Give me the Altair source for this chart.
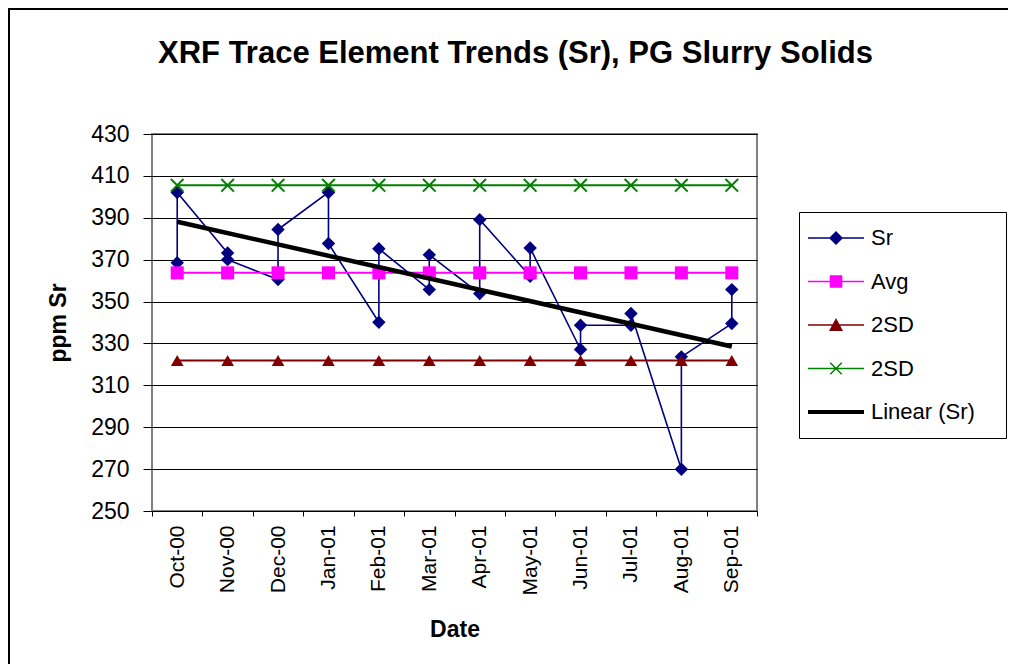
import altair as alt
import pandas as pd

# ---------------- data ----------------
months = ["Oct-00", "Nov-00", "Dec-00", "Jan-01", "Feb-01", "Mar-01",
          "Apr-01", "May-01", "Jun-01", "Jul-01", "Aug-01", "Sep-01"]

# Sr measurements (two per month, in plotting order)
sr_month_index = [0, 0, 1, 1, 2, 2, 3, 3, 4, 4, 5, 5,
                  6, 6, 7, 7, 8, 8, 9, 9, 10, 10, 11, 11]
sr_values = [368.5, 402.1, 373.2, 370.0, 360.5, 384.4, 402.1, 377.7,
             340.1, 375.2, 355.7, 372.3, 353.8, 389.1, 362.1, 375.6,
             327.1, 338.7, 338.7, 344.3, 269.9, 323.6, 339.5, 355.7]

avg_values = [363.7, 363.7, 363.7, 363.7, 363.7, 363.7,
              363.7, 363.7, 363.7, 363.7, 363.7, 363.7]
sd_low_values = [321.9, 321.9, 321.9, 321.9, 321.9, 321.9,
                 321.9, 321.9, 321.9, 321.9, 321.9, 321.9]
sd_high_values = [405.5, 405.5, 405.5, 405.5, 405.5, 405.5,
                  405.5, 405.5, 405.5, 405.5, 405.5, 405.5]

series_ids = ["Sr", "Avg", "2SD_low", "2SD_high", "Linear (Sr)"]
series_colors = ["#000080", "#FF00FF", "#800000", "#008000", "#000000"]
y_ticks = [250, 270, 290, 310, 330, 350, 370, 390, 410, 430]

# ---------------- table ----------------
rows = []
for i, (m, v) in enumerate(zip(sr_month_index, sr_values)):
    rows.append({"series": "Sr", "month": months[m], "idx": m, "value": v, "seq": i})
for name, vals in [("Avg", avg_values), ("2SD_low", sd_low_values), ("2SD_high", sd_high_values)]:
    for j, v in enumerate(vals):
        rows.append({"series": name, "month": months[j], "idx": j, "value": v, "seq": j})
df = pd.DataFrame(rows)
month_lookup = pd.DataFrame({"idx": list(range(len(months))), "month": months})

FONT = "Liberation Sans"
W, H = 605, 377
PAD_L, PAD_T = 144, 126
TOTAL_W, TOTAL_H = 1000, 656

x_enc = alt.X(
    "month:O",
    sort=months,
    scale=alt.Scale(type="band", domain=months, paddingInner=0, paddingOuter=0),
    axis=alt.Axis(
        title="Date", titleFont=FONT, titleFontSize=23, titleFontWeight="bold",
        titleColor="black", titleY=118, titleBaseline="middle",
        labelFont=FONT, labelFontSize=21, labelColor="black", labelAngle=270,
        labelPadding=9, tickBand="extent", tickSize=5, tickColor="black",
        tickWidth=1, domain=False, grid=False, labelOverlap=False,
    ),
)
y_enc = alt.Y(
    "value:Q",
    scale=alt.Scale(domain=[250, 430], nice=False, zero=False),
    axis=alt.Axis(
        title="ppm Sr", titleFont=FONT, titleFontSize=23, titleFontWeight="bold",
        titleColor="black", titleAngle=270, titleX=-87, titleY=H / 2,
        titleBaseline="alphabetic", titleAlign="center",
        values=y_ticks, labelFont=FONT, labelFontSize=23, labelColor="black",
        labelPadding=14, tickSize=9, tickColor="black", tickWidth=1,
        domain=False, grid=True, gridColor="black", gridWidth=1,
    ),
)

base = alt.Chart(df).encode(x=x_enc, y=y_enc)


def series_line(sid, color, width):
    return base.transform_filter(alt.datum.series == sid).mark_line(
        color=color, strokeWidth=width
    ).encode(order="seq:Q")


def series_points(sid, color, shape, size, filled=True):
    return base.transform_filter(alt.datum.series == sid).mark_point(
        shape=shape, size=size, filled=filled, color=color, opacity=1,
        strokeWidth=2,
    )


X_PATH = "M-1,-1L1,1M-1,1L1,-1"

layers = [
    series_line("Sr", "#000080", 1.6),
    series_points("Sr", "#000080", "diamond", 180),
    series_line("Avg", "#FF00FF", 2),
    series_points("Avg", "#FF00FF", "square", 170),
    series_line("2SD_low", "#800000", 2),
    series_points("2SD_low", "#800000", "triangle-up", 160),
    series_line("2SD_high", "#008000", 2),
    series_points("2SD_high", "#008000", X_PATH, 160, filled=False),
]

trend = (
    base.transform_filter(alt.datum.series == "Sr")
    .transform_regression("idx", "value", method="linear", extent=[0, 11])
    .transform_lookup(lookup="idx", from_=alt.LookupData(month_lookup, "idx", ["month"]))
    .transform_filter("isValid(datum.month)")
    .mark_line(color="black", strokeWidth=4.5)
)
layers.append(trend)

# legend provider: no rows, explicit domains -> legend only
legend_paths = [
    "M-4,-0.12H4V0.12H-4Z M0,-1L1,0L0,1L-1,0Z",
    "M-4,-0.12H4V0.12H-4Z M-0.9,-0.9H0.9V0.9H-0.9Z",
    "M-4,-0.12H4V0.12H-4Z M0,-1L1,0.85H-1Z",
    "M-4,-0.12H4V0.12H-4Z M-0.9,-0.75L-0.75,-0.9L0.9,0.75L0.75,0.9Z M-0.9,0.75L0.75,-0.9L0.9,-0.75L-0.75,0.9Z",
    "M-4,-0.3H4V0.3H-4Z",
]
# blank (non-trimmed) filler so the legend box keeps the reference's width
BLANK_FILL = "\u2800"
legend = alt.Legend(
    title=None, orient="none", legendX=647, legendY=78,
    labelFont=FONT, labelFontSize=22, labelColor="black",
    labelExpr="datum.value == '2SD_low' || datum.value == '2SD_high' ? '2SD' : "
              "datum.value == 'Linear (Sr)' ? 'Linear (Sr)" + BLANK_FILL + "' : datum.value",
    symbolSize=196, symbolStrokeWidth=0, symbolOffset=11, labelOffset=24,
    padding=15, rowPadding=21.5, strokeColor="black", fillColor="white",
)
legend_layer = alt.Chart(alt.Data(values=[])).mark_point(filled=True, opacity=1).encode(
    color=alt.Color("series:N", scale=alt.Scale(domain=series_ids, range=series_colors), legend=legend),
    shape=alt.Shape("series:N", scale=alt.Scale(domain=series_ids, range=legend_paths), legend=legend),
)
layers.append(legend_layer)

# outer frame edges (left and top) of the chart area
frame_left = alt.Chart(df).mark_rule(color="black", strokeWidth=1.5).encode(
    x=alt.value(-PAD_L + 1), y=alt.value(-PAD_T), y2=alt.value(TOTAL_H - PAD_T)
)
frame_top = alt.Chart(df).mark_rule(color="black", strokeWidth=1.5).encode(
    x=alt.value(-PAD_L), x2=alt.value(TOTAL_W - PAD_L), y=alt.value(-PAD_T + 1)
)
layers += [frame_left, frame_top]

chart = (
    alt.layer(*layers)
    .properties(
        width=W, height=H,
        title=alt.TitleParams(
            "XRF Trace Element Trends (Sr), PG Slurry Solids",
            font=FONT, fontSize=31, fontWeight="bold", color="black",
            anchor="middle", dx=61, offset=-87, baseline="alphabetic",
        ),
        padding={"left": PAD_L, "top": PAD_T, "right": TOTAL_W - PAD_L - W, "bottom": TOTAL_H - PAD_T - H},
        autosize=alt.AutoSizeParams(type="none"),
        background="white",
    )
    .configure_view(stroke="#808080", strokeWidth=2)
)

chart.save("out.html", embed_options={"renderer": "svg", "actions": False})
